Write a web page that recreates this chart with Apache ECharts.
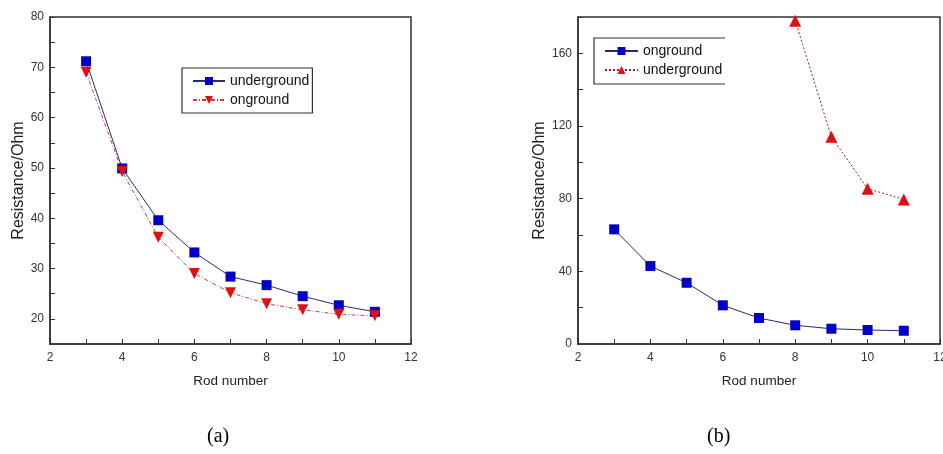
<!DOCTYPE html>
<html><head><meta charset="utf-8">
<script src="https://cdn.jsdelivr.net/npm/echarts@6/dist/echarts.min.js"></script>
<style>html,body{margin:0;padding:0;background:#fff}#c{width:943px;height:454px}</style>
</head><body><div id="c"></div>
<script>
// Chart (a)
const rodsA = [3, 4, 5, 6, 7, 8, 9, 10, 11];
const undergroundA = [71.2, 49.9, 39.6, 33.2, 28.4, 26.7, 24.5, 22.7, 21.4];
const ongroundA = [69.0, 49.3, 36.2, 29.0, 25.2, 23.0, 21.8, 20.9, 20.6];
// Chart (b)
const rodsB = [3, 4, 5, 6, 7, 8, 9, 10, 11];
const ongroundB = [63.1, 42.9, 33.7, 21.3, 14.3, 10.3, 8.4, 7.7, 7.3];
const undergroundB = [null, null, null, null, null, 178, 114.1, 85.5, 79.6];
const xTicks = [2, 4, 6, 8, 10, 12];
const yTicksA = [20, 30, 40, 50, 60, 70, 80];
const yTicksB = [0, 40, 80, 120, 160];
const captions = ['(a)', '(b)'];

const pairs = (xs, ys) => xs.map((x, i) => [x, ys[i]]);
const axisCol = '#333';
const labelStyle = {color: '#333', fontFamily: 'Liberation Sans, Arial', fontSize: 12};
const xNameStyle = {color: '#222', fontFamily: 'Liberation Sans, Arial', fontSize: 13.5};
const yNameStyle = {color: '#222', fontFamily: 'Liberation Sans, Arial', fontSize: 16};

function xAxis(gi) {
  return {type: 'value', gridIndex: gi, min: 2, max: 12, interval: 1,
    name: 'Rod number', nameLocation: 'middle', nameGap: 30, nameTextStyle: xNameStyle,
    axisLine: {show: true, lineStyle: {color: axisCol, width: 1.5}},
    axisTick: {show: true, inside: true, length: 5, lineStyle: {color: axisCol}},
    axisLabel: Object.assign({margin: 8, formatter: v => xTicks.includes(v) ? String(v) : ''}, labelStyle),
    splitLine: {show: false}};
}
function yAxis(gi, min, max, interval, ticks, gap) {
  return {type: 'value', gridIndex: gi, min, max, interval,
    name: 'Resistance/Ohm', nameLocation: 'middle', nameGap: gap, nameTextStyle: yNameStyle,
    axisLine: {show: true, lineStyle: {color: axisCol, width: 1.5}},
    axisTick: {show: true, inside: true, length: 5, lineStyle: {color: axisCol}},
    axisLabel: Object.assign({margin: 6, showMaxLabel: true, formatter: v => ticks.includes(v) ? String(v) : ''}, labelStyle),
    splitLine: {show: false}};
}

const chart = echarts.init(document.getElementById('c'));
chart.setOption({
  animation: false,
  backgroundColor: '#fff',
  grid: [
    {left: 50, top: 17, width: 361, height: 327, outerBoundsMode: 'none', containLabel: false,
     show: true, borderColor: axisCol, borderWidth: 1.5, backgroundColor: 'transparent'},
    {left: 578, top: 17, width: 362, height: 327, outerBoundsMode: 'none', containLabel: false,
     show: true, borderColor: axisCol, borderWidth: 1.5, backgroundColor: 'transparent'}
  ],
  xAxis: [xAxis(0), xAxis(1)],
  yAxis: [yAxis(0, 15, 80, 5, yTicksA, 23), yAxis(1, 0, 180, 20, yTicksB, 29)],
  legend: [
    {left: 182, top: 68, orient: 'vertical', itemGap: 5, itemWidth: 32, itemHeight: 10,
     padding: [6, 3, 6, 10], borderColor: axisCol, borderWidth: 1.2,
     data: ['underground (a)', 'onground (a)'],
     formatter: n => n.replace(/ \(.\)$/, ''),
     textStyle: {color: '#111', fontFamily: 'Liberation Sans, Arial', fontSize: 14}},
    {left: 594, top: 38, orient: 'vertical', itemGap: 5, itemWidth: 33, itemHeight: 10,
     padding: [6, 8, 6, 10], borderWidth: 0,
     data: ['onground (b)', 'underground (b)'],
     formatter: n => n.replace(/ \(.\)$/, ''),
     textStyle: {color: '#111', fontFamily: 'Liberation Sans, Arial', fontSize: 14}}
  ],
  series: [
    {name: 'underground (a)', type: 'line', xAxisIndex: 0, yAxisIndex: 0,
     data: pairs(rodsA, undergroundA), symbol: 'rect', symbolSize: 10,
     itemStyle: {color: '#0000c8'}, lineStyle: {color: '#2a2a7a', width: 1}},
    {name: 'onground (a)', type: 'line', xAxisIndex: 0, yAxisIndex: 0,
     data: pairs(rodsA, ongroundA), symbol: 'triangle', symbolRotate: 180, symbolSize: 11,
     itemStyle: {color: '#e01010'}, lineStyle: {color: '#c04040', width: 1, type: [4, 2, 1, 2]}},
    {name: 'onground (b)', type: 'line', xAxisIndex: 1, yAxisIndex: 1,
     data: pairs(rodsB, ongroundB), symbol: 'rect', symbolSize: 10,
     itemStyle: {color: '#0000c8'}, lineStyle: {color: '#2a2a6a', width: 1}},
    {name: 'underground (b)', type: 'line', xAxisIndex: 1, yAxisIndex: 1,
     data: pairs(rodsB, undergroundB), symbol: 'triangle', symbolSize: 12,
     itemStyle: {color: '#e01010'}, lineStyle: {color: '#a02020', width: 1, type: [2, 2]}}
  ],
  graphic: [
    {type: 'polyline', shape: {points: [[725, 38], [594, 38], [594, 84], [725, 84]]},
     style: {stroke: axisCol, lineWidth: 1.2, fill: null}, z: 10},
    {type: 'text', left: 207, top: 427, style: {text: captions[0], font: '20px "Liberation Serif", serif', fill: '#000'}},
    {type: 'text', left: 707, top: 427, style: {text: captions[1], font: '20px "Liberation Serif", serif', fill: '#000'}}
  ]
});
</script></body></html>
